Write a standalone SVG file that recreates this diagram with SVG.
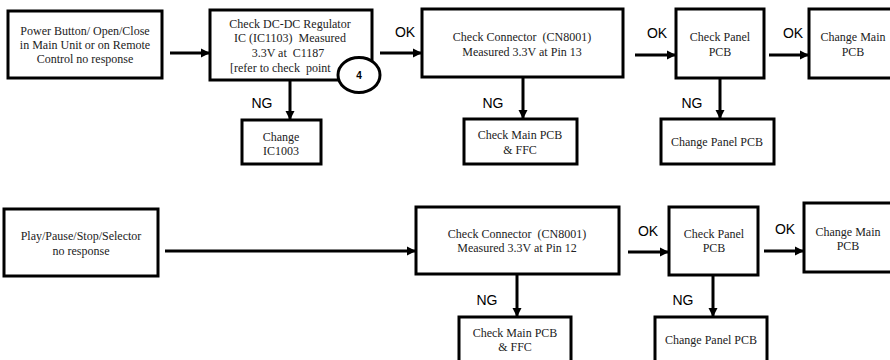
<svg xmlns="http://www.w3.org/2000/svg" width="890" height="360" viewBox="0 0 890 360" xml:space="preserve">
<style>
.box{fill:#fff;stroke:#000;stroke-width:3}
.t{font-family:"Liberation Serif","Times New Roman",serif;font-size:12px;fill:#222;text-anchor:middle;white-space:pre}
.l{font-family:"Liberation Sans",Arial,sans-serif;font-size:14px;fill:#000;text-anchor:middle}
.c{fill:none;stroke:#000;stroke-width:3;marker-end:url(#ah)}
</style>
<defs>
<marker id="ah" markerUnits="userSpaceOnUse" markerWidth="10" markerHeight="10" refX="9" refY="5" orient="auto">
<path d="M0,0.5 L9,5 L0,9.5 Z" fill="#000"/>
</marker>
</defs>
<rect width="890" height="360" fill="#fff"/>
<g id="connectors">
<path class="c" d="M170,53 H210"/>
<path class="c" d="M380,53 H422"/>
<path class="c" d="M635,55 H676"/>
<path class="c" d="M769,55 H809"/>
<path class="c" d="M290,80 V120"/>
<path class="c" d="M523,77 V119"/>
<path class="c" d="M720,78 V119"/>
<path class="c" d="M165,251 H416"/>
<path class="c" d="M628,252 H669"/>
<path class="c" d="M764,251 H804"/>
<path class="c" d="M517,274 V317"/>
<path class="c" d="M713,275 V317"/>
<text class="l" x="405" y="37">OK</text>
<text class="l" x="657" y="38">OK</text>
<text class="l" x="793" y="38">OK</text>
<text class="l" x="262" y="108">NG</text>
<text class="l" x="493" y="108">NG</text>
<text class="l" x="692" y="108">NG</text>
<text class="l" x="648" y="236">OK</text>
<text class="l" x="785" y="234">OK</text>
<text class="l" x="487" y="305">NG</text>
<text class="l" x="683" y="305">NG</text>
</g>
<g id="n1"><rect class="box" x="8" y="11" width="154" height="67"/>
<text class="t" x="85" y="35">Power Button/ Open/Close</text>
<text class="t" x="85" y="49">in Main Unit or on Remote</text>
<text class="t" x="85" y="63">Control no response</text></g>
<g id="n2"><rect class="box" x="210" y="10" width="162" height="70"/>
<text class="t" x="290" y="28">Check DC-DC Regulator</text>
<text class="t" x="290" y="42">IC (IC1103)  Measured</text>
<text class="t" x="288" y="57">3.3V at  C1187</text>
<text class="t" x="230" y="72" style="text-anchor:start">[refer to check  point</text>
<ellipse cx="359" cy="75" rx="21" ry="17.5" fill="#fff" stroke="#000" stroke-width="3"/>
<text x="359" y="79" style="font-family:'Liberation Sans',Arial,sans-serif;font-size:10px;font-weight:bold;text-anchor:middle">4</text></g>
<g id="n3"><rect class="box" x="242" y="120" width="79" height="44"/>
<text class="t" x="281" y="141">Change</text>
<text class="t" x="281" y="155">IC1003</text></g>
<g id="n4"><rect class="box" x="422" y="9" width="201" height="68"/>
<text class="t" x="522" y="41">Check Connector  (CN8001)</text>
<text class="t" x="522" y="56">Measured 3.3V at Pin 13</text></g>
<g id="n5"><rect class="box" x="464" y="119" width="113" height="45"/>
<text class="t" x="520" y="139">Check Main PCB</text>
<text class="t" x="520" y="154">&amp; FFC</text></g>
<g id="n6"><rect class="box" x="676" y="9" width="88" height="69"/>
<text class="t" x="720" y="41">Check Panel</text>
<text class="t" x="720" y="56">PCB</text></g>
<g id="n7"><rect class="box" x="661" y="119" width="113" height="45"/>
<text class="t" x="717" y="146">Change Panel PCB</text></g>
<g id="n8"><rect class="box" x="809" y="9" width="90" height="69"/>
<text class="t" x="853" y="41">Change Main</text>
<text class="t" x="853" y="56">PCB</text></g>
<g id="n9"><rect class="box" x="4" y="209" width="154" height="67"/>
<text class="t" x="81" y="240">Play/Pause/Stop/Selector</text>
<text class="t" x="81" y="255">no response</text></g>
<g id="n10"><rect class="box" x="416" y="207" width="203" height="67"/>
<text class="t" x="517" y="238">Check Connector  (CN8001)</text>
<text class="t" x="517" y="252">Measured 3.3V at Pin 12</text></g>
<g id="n11"><rect class="box" x="459" y="317" width="112" height="50"/>
<text class="t" x="515" y="337">Check Main PCB</text>
<text class="t" x="515" y="351">&amp; FFC</text></g>
<g id="n12"><rect class="box" x="669" y="207" width="89" height="68"/>
<text class="t" x="714" y="238">Check Panel</text>
<text class="t" x="714" y="252">PCB</text></g>
<g id="n13"><rect class="box" x="655" y="317" width="112" height="50"/>
<text class="t" x="711" y="344">Change Panel PCB</text></g>
<g id="n14"><rect class="box" x="804" y="203" width="95" height="69"/>
<text class="t" x="848" y="236">Change Main</text>
<text class="t" x="848" y="250">PCB</text></g>
</svg>
